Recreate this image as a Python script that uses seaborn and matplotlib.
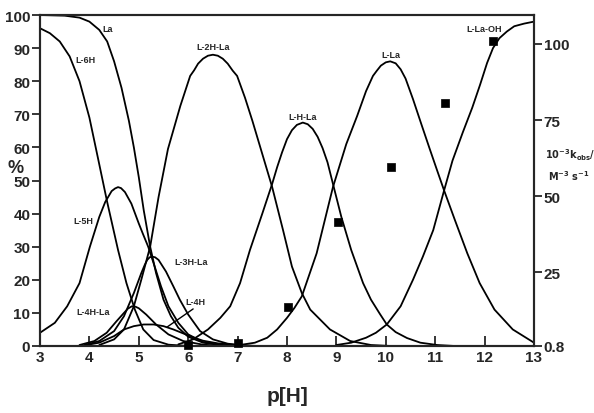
import numpy as np
import pandas as pd
import seaborn as sns
import matplotlib.pyplot as plt

# distribucion de especies (% vs p[H])
la_ph = [3.0, 3.5, 3.8, 4.0, 4.2, 4.36, 4.5, 4.65, 4.8, 4.9, 5.0, 5.1, 5.23, 5.35, 5.5, 5.65, 5.8, 6.0, 6.3, 6.7, 7.2]
la_v = [100, 99.8, 99.2, 98, 95.5, 92, 86, 78, 68, 60, 51, 41, 30, 22, 14, 9, 5.5, 2.8, 1.0, 0.2, 0]

l6h_ph = [3.0, 3.2, 3.4, 3.6, 3.8, 4.0, 4.17, 4.36, 4.58, 4.75, 4.92, 5.09, 5.3, 5.6, 6.0]
l6h_v = [96, 94.5, 92, 87.5, 80, 69, 57, 43.5, 29, 19, 11, 5, 1.8, 0.4, 0]

l5h_ph = [3.0, 3.3, 3.55, 3.8, 4.01, 4.2, 4.32, 4.45, 4.52, 4.58, 4.64, 4.72, 4.85, 5.0, 5.08, 5.19,
          5.3, 5.45, 5.6, 5.8, 6.0, 6.3, 6.7, 7.0]
l5h_v = [4, 7, 12, 19, 30, 39, 43.5, 46.8, 47.6, 48, 47.7, 46.5, 43, 37, 34, 30,
         25, 18, 12, 7, 3.5, 1.2, 0.3, 0]

l2hla_ph = [4.2, 4.5, 4.7, 4.9, 5.05, 5.23, 5.4, 5.59, 5.84, 6.04, 6.12, 6.2, 6.3, 6.4, 6.5, 6.6, 6.7,
            6.8, 6.9, 6.99, 7.15, 7.3, 7.5, 7.7, 7.92, 8.1, 8.3, 8.47, 8.87, 9.28, 9.7, 10.1]
l2hla_v = [0.3, 2, 5, 12, 20, 30, 45, 59.5, 72.5, 81.6, 83.3, 85.3, 86.8, 87.7, 88, 87.7, 86.8,
           85.3, 83.2, 81.6, 75, 68, 58, 48, 35, 24, 16, 11, 5, 1.5, 0.3, 0]

lhla_ph = [5.8, 6.1, 6.4, 6.65, 6.85, 7.05, 7.25, 7.5, 7.7, 7.8, 7.9, 8.0, 8.1, 8.2, 8.32, 8.42, 8.52,
           8.62, 8.72, 8.82, 8.93, 9.1, 9.3, 9.54, 9.7, 9.88, 10.02, 10.2, 10.43, 10.7, 11.04, 11.4]
lhla_v = [0.5, 2, 5, 8.5, 12, 19, 29, 40, 49, 54, 58.5, 62.5, 65.2, 66.8, 67.5, 67, 65.6,
          63.2, 59.8, 55.5, 49, 39, 29, 19, 14, 9.7, 6.5, 4.2, 2.4, 1.0, 0.3, 0]

lla_ph = [7.0, 7.35, 7.6, 7.8, 8.0, 8.15, 8.3, 8.6, 8.93, 9.2, 9.42, 9.6, 9.74, 9.82, 9.9, 10.0, 10.09,
          10.2, 10.3, 10.4, 10.55, 10.72, 10.89, 11.04, 11.18, 11.4, 11.65, 11.9, 12.2, 12.57, 13.0]
lla_v = [0.2, 1, 2.5, 5, 8.5, 11.5, 15, 28, 48, 61, 69.5, 77, 81.6, 83.2, 84.7, 85.7, 86,
         85.4, 83.6, 80.8, 74.6, 67, 59.5, 53, 47, 38, 28, 19, 11, 5, 1]

llaoh_ph = [9.0, 9.3, 9.6, 9.8, 10.02, 10.3, 10.55, 10.75, 10.96, 11.18, 11.35, 11.56, 11.75, 11.91,
            12.05, 12.17, 12.3, 12.45, 12.6, 12.8, 13.0]
llaoh_v = [0.3, 1, 2.5, 4, 6.5, 12, 20, 27, 35, 47, 56, 64.6, 72, 79,
           85.5, 90, 93, 95, 96.6, 97.4, 98]

l3hla_ph = [3.9, 4.2, 4.5, 4.7, 4.9, 5.05, 5.12, 5.17, 5.22, 5.27, 5.33, 5.4, 5.55, 5.7, 5.83, 6.0,
            6.24, 6.5, 6.8, 7.2]
l3hla_v = [0.3, 1.5, 4.5, 9, 16, 22, 24.5, 26, 26.8, 27, 26.8, 26, 22.5, 18, 14, 9.5,
           4.5, 2, 0.7, 0]

l4hla_ph = [3.8, 4.1, 4.35, 4.55, 4.7, 4.78, 4.86, 4.93, 5.0, 5.15, 5.35, 5.6, 5.9, 6.3, 6.7]
l4hla_v = [0.3, 1.5, 4, 7.5, 10, 11.3, 12, 11.9, 11.4, 9.5, 6.5, 3.5, 1.5, 0.4, 0]

l4h_ph = [3.9, 4.2, 4.5, 4.7, 4.9, 5.1, 5.3, 5.5, 5.7, 5.9, 6.1, 6.3, 6.6, 7.0, 7.4]
l4h_v = [0.2, 1, 3, 5, 6, 6.5, 6.5, 6, 5, 3.8, 2.6, 1.6, 0.8, 0.3, 0]

# constantes cineticas (eje derecho)
kobs_ph = [6.0, 7.0, 8.02, 9.03, 10.1, 11.2, 12.17]
kobs_v = [1.2, 1.8, 13.6, 41.6, 59.7, 80.7, 100.8]

etiquetas = ['La', 'L-6H', 'L-2H-La', 'L-H-La', 'L-La', 'L-La-OH', 'L-5H', 'L-3H-La', 'L-4H-La', 'L-4H']
etiq_x = [4.36, 3.91, 6.50, 8.32, 10.1, 12.0, 3.87, 6.06, 4.07, 6.14]
etiq_y = [96, 86.7, 90.6, 69.2, 88, 96, 38, 25.4, 10.3, 13.3]

curvas = {
    'La': (la_ph, la_v), 'L-6H': (l6h_ph, l6h_v), 'L-5H': (l5h_ph, l5h_v),
    'L-2H-La': (l2hla_ph, l2hla_v), 'L-H-La': (lhla_ph, lhla_v), 'L-La': (lla_ph, lla_v),
    'L-La-OH': (llaoh_ph, llaoh_v), 'L-3H-La': (l3hla_ph, l3hla_v),
    'L-4H-La': (l4hla_ph, l4hla_v), 'L-4H': (l4h_ph, l4h_v),
}
df = pd.concat([pd.DataFrame({'pH': x, 'pct': y, 'especie': k}) for k, (x, y) in curvas.items()])
df_k = pd.DataFrame({'pH': kobs_ph, 'kobs': kobs_v})

sns.set_style('ticks')
plt.rcParams['font.family'] = ['Liberation Sans', 'DejaVu Sans']
plt.rcParams['font.weight'] = 'bold'
plt.rcParams['mathtext.default'] = 'bf'

fig = plt.figure(figsize=(5.94, 4.14), dpi=100)
ax = fig.add_axes([40/594, 1 - 347/414, 494/594, 331/414])

sns.lineplot(data=df, x='pH', y='pct', units='especie', estimator=None, sort=False,
             color='black', lw=1.3, ax=ax)
ax.plot([5.57, 6.1], [5.7, 11.2], color='black', lw=1.0)

for t, x, y in zip(etiquetas, etiq_x, etiq_y):
    ax.text(x, y, t, fontsize=6.5, fontweight='bold', ha='center', va='center')

ax.set_xlim(3, 13)
ax.set_ylim(0, 100)
ax.set_xticks(range(3, 14))
ax.set_yticks(range(0, 101, 10))
ax.tick_params(axis='x', direction='in', length=7, width=1.3, labelsize=11, pad=3)
ax.tick_params(axis='y', direction='out', length=6, width=1.3, labelsize=11, pad=1)
for s in ax.spines.values():
    s.set_linewidth(1.5)
    s.set_visible(True)
ax.set_xlabel('p[H]', fontsize=15, fontweight='bold', labelpad=16)
ax.set_ylabel('')
ax.text(-0.05, 0.54, '%', transform=ax.transAxes, fontsize=13, fontweight='bold',
        ha='center', va='center')

ax2 = ax.twinx()
sns.scatterplot(data=df_k, x='pH', y='kobs', marker='s', color='black', s=38,
                edgecolor='black', ax=ax2, zorder=5, clip_on=False)
ax2.set_ylim(0.8, 109.5)
ax2.set_yticks([0.8, 25, 50, 75, 100])
ax2.set_yticklabels(['0.8', '25', '50', '75', '100'])
ax2.tick_params(axis='y', direction='out', length=6, width=1.3, labelsize=11, pad=1)
ax2.set_ylabel('')
for s in ax2.spines.values():
    s.set_linewidth(1.5)

fig.text(545/594, 1 - 155/414, r'$10^{-3}k_{obs}/$', fontsize=7, ha='left', va='center')
fig.text(548/594, 1 - 176/414, r'$M^{-3}\ s^{-1}$', fontsize=7, ha='left', va='center')

fig.savefig('out.png', dpi=100)
